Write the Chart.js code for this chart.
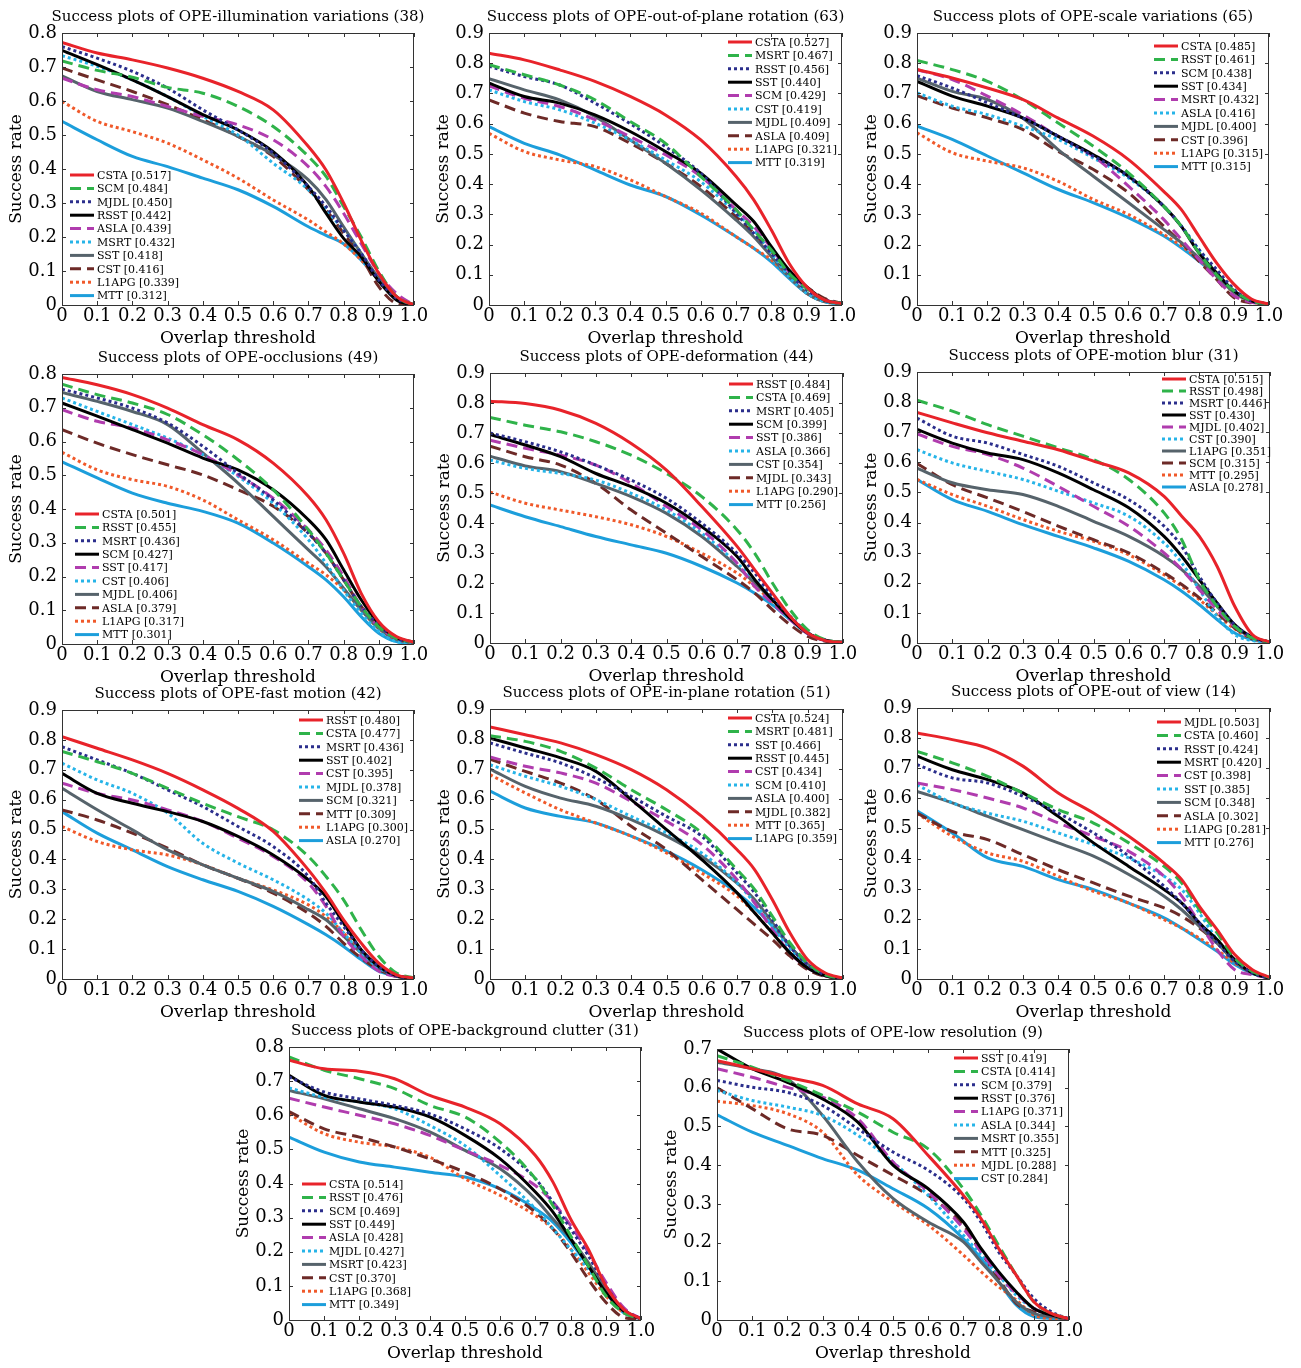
<!DOCTYPE html>
<html>
<head>
<meta charset="utf-8">
<title>Success plots of OPE</title>
<script src="https://cdn.jsdelivr.net/npm/chart.js@4.4.0/dist/chart.umd.min.js"></script>
<style>
  html, body { margin: 0; padding: 0; background: #fff; }
  #page { position: relative; width: 1301px; height: 1368px; overflow: hidden; background: #fff; }
  .cell { position: absolute; }
</style>
</head>
<body>
<div id="page"></div>
<script>
const thresholds = [0, 0.1, 0.2, 0.3, 0.4, 0.5, 0.6, 0.7, 0.75, 0.8, 0.85, 0.9, 0.95, 1.0];
const xTickLabels = ['0', '0.1', '0.2', '0.3', '0.4', '0.5', '0.6', '0.7', '0.8', '0.9', '1.0'];
const yTickLabels = ['0', '0.1', '0.2', '0.3', '0.4', '0.5', '0.6', '0.7', '0.8', '0.9'];

// OPE-illumination variations (38)
const illumNames = ['CSTA', 'SCM', 'MJDL', 'RSST', 'ASLA', 'MSRT', 'SST', 'CST', 'L1APG', 'MTT'];
const illumScores = [0.517, 0.484, 0.450, 0.442, 0.439, 0.432, 0.418, 0.416, 0.339, 0.312];
const illumRates = [
  [0.772, 0.741, 0.721, 0.697, 0.667, 0.628, 0.574, 0.466, 0.397, 0.300, 0.190, 0.093, 0.025, 0],
  [0.718, 0.690, 0.670, 0.640, 0.623, 0.584, 0.525, 0.437, 0.378, 0.290, 0.200, 0.100, 0.025, 0],
  [0.760, 0.726, 0.687, 0.638, 0.574, 0.515, 0.447, 0.348, 0.290, 0.220, 0.152, 0.074, 0.020, 0],
  [0.749, 0.707, 0.662, 0.613, 0.560, 0.515, 0.451, 0.348, 0.270, 0.196, 0.142, 0.070, 0.015, 0],
  [0.667, 0.633, 0.613, 0.584, 0.555, 0.530, 0.486, 0.407, 0.348, 0.270, 0.180, 0.093, 0.034, 0],
  [0.733, 0.702, 0.662, 0.613, 0.555, 0.500, 0.417, 0.339, 0.280, 0.220, 0.152, 0.070, 0.020, 0],
  [0.674, 0.628, 0.604, 0.579, 0.540, 0.496, 0.442, 0.368, 0.310, 0.230, 0.152, 0.079, 0.025, 0],
  [0.697, 0.662, 0.628, 0.589, 0.545, 0.496, 0.437, 0.339, 0.280, 0.211, 0.142, 0.054, 0.005, 0],
  [0.599, 0.540, 0.510, 0.476, 0.427, 0.373, 0.309, 0.250, 0.215, 0.180, 0.132, 0.074, 0.025, 0],
  [0.540, 0.486, 0.437, 0.407, 0.373, 0.339, 0.290, 0.230, 0.205, 0.180, 0.132, 0.074, 0.020, 0]
];

// OPE-out-of-plane rotation (63)
const oprNames = ['CSTA', 'MSRT', 'RSST', 'SST', 'SCM', 'CST', 'MJDL', 'ASLA', 'L1APG', 'MTT'];
const oprScores = [0.527, 0.467, 0.456, 0.440, 0.429, 0.419, 0.409, 0.409, 0.321, 0.319];
const oprRates = [
  [0.833, 0.811, 0.778, 0.740, 0.690, 0.629, 0.546, 0.425, 0.348, 0.248, 0.138, 0.060, 0.017, 0.005],
  [0.795, 0.762, 0.728, 0.679, 0.607, 0.535, 0.425, 0.315, 0.248, 0.182, 0.105, 0.055, 0.017, 0.005],
  [0.790, 0.756, 0.728, 0.668, 0.600, 0.524, 0.436, 0.304, 0.237, 0.171, 0.105, 0.050, 0.017, 0.005],
  [0.734, 0.690, 0.668, 0.629, 0.574, 0.508, 0.436, 0.331, 0.276, 0.193, 0.116, 0.060, 0.017, 0.005],
  [0.725, 0.684, 0.657, 0.613, 0.557, 0.497, 0.425, 0.315, 0.260, 0.188, 0.110, 0.055, 0.017, 0.005],
  [0.712, 0.673, 0.646, 0.602, 0.546, 0.480, 0.408, 0.304, 0.248, 0.171, 0.094, 0.039, 0.011, 0.003],
  [0.749, 0.712, 0.679, 0.624, 0.546, 0.469, 0.381, 0.281, 0.226, 0.160, 0.094, 0.039, 0.011, 0.003],
  [0.679, 0.635, 0.607, 0.590, 0.535, 0.469, 0.392, 0.292, 0.237, 0.177, 0.110, 0.060, 0.022, 0.005],
  [0.568, 0.508, 0.480, 0.458, 0.414, 0.359, 0.304, 0.226, 0.188, 0.149, 0.094, 0.039, 0.011, 0.003],
  [0.590, 0.535, 0.497, 0.447, 0.397, 0.359, 0.298, 0.226, 0.188, 0.143, 0.088, 0.039, 0.011, 0.003]
];

// OPE-scale variations (65)
const scaleNames = ['CSTA', 'RSST', 'SCM', 'SST', 'MSRT', 'ASLA', 'MJDL', 'CST', 'L1APG', 'MTT'];
const scaleScores = [0.485, 0.461, 0.438, 0.434, 0.432, 0.416, 0.400, 0.396, 0.315, 0.315];
const scaleRates = [
  [0.779, 0.751, 0.718, 0.680, 0.619, 0.559, 0.482, 0.377, 0.317, 0.229, 0.141, 0.069, 0.020, 0.003],
  [0.809, 0.779, 0.740, 0.680, 0.603, 0.526, 0.438, 0.328, 0.262, 0.174, 0.102, 0.047, 0.014, 0.003],
  [0.759, 0.718, 0.669, 0.619, 0.559, 0.493, 0.427, 0.328, 0.262, 0.185, 0.119, 0.053, 0.014, 0.003],
  [0.740, 0.691, 0.658, 0.619, 0.559, 0.498, 0.427, 0.328, 0.262, 0.174, 0.108, 0.047, 0.014, 0.003],
  [0.779, 0.746, 0.691, 0.630, 0.559, 0.493, 0.394, 0.284, 0.218, 0.152, 0.086, 0.031, 0.009, 0.003],
  [0.702, 0.658, 0.630, 0.592, 0.548, 0.487, 0.421, 0.328, 0.262, 0.185, 0.108, 0.047, 0.014, 0.003],
  [0.751, 0.707, 0.680, 0.619, 0.515, 0.427, 0.339, 0.251, 0.207, 0.157, 0.097, 0.042, 0.011, 0.003],
  [0.693, 0.652, 0.619, 0.581, 0.509, 0.449, 0.372, 0.262, 0.207, 0.146, 0.086, 0.025, 0.007, 0],
  [0.570, 0.504, 0.476, 0.454, 0.410, 0.350, 0.300, 0.234, 0.196, 0.152, 0.097, 0.042, 0.011, 0.003],
  [0.592, 0.548, 0.493, 0.438, 0.383, 0.339, 0.289, 0.229, 0.190, 0.146, 0.097, 0.047, 0.014, 0.003]
];

// OPE-occlusions (49)
const occNames = ['CSTA', 'RSST', 'MSRT', 'SCM', 'SST', 'CST', 'MJDL', 'ASLA', 'L1APG', 'MTT'];
const occScores = [0.501, 0.455, 0.436, 0.427, 0.417, 0.406, 0.406, 0.379, 0.317, 0.301];
const occRates = [
  [0.790, 0.768, 0.739, 0.699, 0.650, 0.605, 0.536, 0.437, 0.368, 0.269, 0.150, 0.066, 0.022, 0.005],
  [0.770, 0.739, 0.714, 0.680, 0.620, 0.546, 0.457, 0.338, 0.269, 0.190, 0.111, 0.051, 0.017, 0.005],
  [0.755, 0.729, 0.699, 0.655, 0.586, 0.506, 0.427, 0.328, 0.269, 0.190, 0.111, 0.056, 0.017, 0.005],
  [0.714, 0.675, 0.635, 0.595, 0.551, 0.516, 0.457, 0.368, 0.309, 0.220, 0.131, 0.061, 0.019, 0.005],
  [0.694, 0.660, 0.640, 0.605, 0.561, 0.501, 0.432, 0.338, 0.279, 0.200, 0.111, 0.051, 0.017, 0.005],
  [0.729, 0.689, 0.650, 0.610, 0.561, 0.497, 0.417, 0.309, 0.239, 0.160, 0.091, 0.037, 0.007, 0.002],
  [0.745, 0.719, 0.689, 0.650, 0.566, 0.477, 0.378, 0.279, 0.229, 0.165, 0.101, 0.046, 0.014, 0.003],
  [0.635, 0.595, 0.561, 0.531, 0.501, 0.457, 0.408, 0.328, 0.269, 0.190, 0.111, 0.056, 0.019, 0.005],
  [0.568, 0.516, 0.487, 0.467, 0.427, 0.368, 0.309, 0.239, 0.205, 0.160, 0.101, 0.046, 0.014, 0.003],
  [0.540, 0.492, 0.447, 0.417, 0.393, 0.358, 0.299, 0.229, 0.190, 0.140, 0.081, 0.032, 0.007, 0.002]
];

// OPE-deformation (44)
const defNames = ['RSST', 'CSTA', 'MSRT', 'SCM', 'SST', 'ASLA', 'CST', 'MJDL', 'L1APG', 'MTT'];
const defScores = [0.484, 0.469, 0.405, 0.399, 0.386, 0.366, 0.354, 0.343, 0.290, 0.256];
const defRates = [
  [0.806, 0.798, 0.776, 0.732, 0.665, 0.576, 0.455, 0.322, 0.244, 0.166, 0.089, 0.033, 0.008, 0.002],
  [0.752, 0.726, 0.704, 0.671, 0.626, 0.565, 0.488, 0.377, 0.299, 0.200, 0.111, 0.044, 0.011, 0.002],
  [0.700, 0.671, 0.637, 0.593, 0.543, 0.482, 0.399, 0.299, 0.233, 0.155, 0.089, 0.035, 0.009, 0.002],
  [0.695, 0.660, 0.621, 0.565, 0.521, 0.466, 0.388, 0.288, 0.211, 0.144, 0.083, 0.033, 0.009, 0.002],
  [0.676, 0.649, 0.626, 0.593, 0.532, 0.455, 0.377, 0.266, 0.188, 0.133, 0.078, 0.031, 0.008, 0.002],
  [0.610, 0.582, 0.565, 0.543, 0.499, 0.443, 0.366, 0.266, 0.211, 0.150, 0.089, 0.035, 0.009, 0.002],
  [0.623, 0.590, 0.571, 0.532, 0.488, 0.432, 0.355, 0.255, 0.200, 0.144, 0.083, 0.033, 0.009, 0.002],
  [0.656, 0.621, 0.593, 0.532, 0.443, 0.366, 0.288, 0.211, 0.166, 0.111, 0.061, 0.022, 0.006, 0.002],
  [0.503, 0.466, 0.443, 0.421, 0.394, 0.355, 0.299, 0.233, 0.188, 0.139, 0.083, 0.033, 0.009, 0.002],
  [0.460, 0.421, 0.388, 0.355, 0.327, 0.299, 0.255, 0.200, 0.166, 0.127, 0.078, 0.031, 0.008, 0.002]
];

// OPE-motion blur (31)
const blurNames = ['CSTA', 'RSST', 'MSRT', 'SST', 'MJDL', 'CST', 'L1APG', 'SCM', 'MTT', 'ASLA'];
const blurScores = [0.515, 0.498, 0.446, 0.430, 0.402, 0.390, 0.351, 0.315, 0.295, 0.278];
const blurRates = [
  [0.766, 0.731, 0.698, 0.670, 0.642, 0.604, 0.565, 0.487, 0.421, 0.354, 0.255, 0.122, 0.028, 0.003],
  [0.806, 0.770, 0.725, 0.687, 0.648, 0.609, 0.543, 0.432, 0.343, 0.210, 0.122, 0.055, 0.017, 0.003],
  [0.747, 0.687, 0.664, 0.626, 0.587, 0.532, 0.476, 0.388, 0.321, 0.221, 0.133, 0.061, 0.019, 0.003],
  [0.709, 0.664, 0.631, 0.609, 0.565, 0.509, 0.449, 0.354, 0.288, 0.210, 0.133, 0.061, 0.019, 0.003],
  [0.694, 0.653, 0.626, 0.581, 0.520, 0.454, 0.388, 0.299, 0.244, 0.177, 0.111, 0.055, 0.017, 0.003],
  [0.642, 0.598, 0.570, 0.543, 0.504, 0.465, 0.421, 0.332, 0.266, 0.177, 0.089, 0.028, 0.008, 0.002],
  [0.581, 0.532, 0.509, 0.493, 0.454, 0.404, 0.354, 0.288, 0.244, 0.188, 0.122, 0.055, 0.017, 0.003],
  [0.596, 0.526, 0.482, 0.437, 0.388, 0.343, 0.299, 0.233, 0.194, 0.150, 0.100, 0.050, 0.014, 0.003],
  [0.543, 0.493, 0.454, 0.410, 0.371, 0.338, 0.293, 0.227, 0.188, 0.144, 0.094, 0.047, 0.014, 0.003],
  [0.543, 0.476, 0.437, 0.393, 0.354, 0.316, 0.271, 0.210, 0.172, 0.127, 0.078, 0.033, 0.011, 0.002]
];

// OPE-fast motion (42)
const fastNames = ['RSST', 'CSTA', 'MSRT', 'SST', 'CST', 'MJDL', 'SCM', 'MTT', 'L1APG', 'ASLA'];
const fastScores = [0.480, 0.477, 0.436, 0.402, 0.395, 0.378, 0.321, 0.309, 0.300, 0.270];
const fastRates = [
  [0.811, 0.772, 0.733, 0.688, 0.633, 0.571, 0.494, 0.365, 0.287, 0.198, 0.120, 0.053, 0.014, 0.003],
  [0.761, 0.727, 0.688, 0.638, 0.588, 0.543, 0.499, 0.410, 0.343, 0.265, 0.165, 0.076, 0.020, 0.003],
  [0.777, 0.733, 0.688, 0.633, 0.577, 0.510, 0.443, 0.343, 0.254, 0.176, 0.098, 0.042, 0.011, 0.002],
  [0.688, 0.621, 0.588, 0.560, 0.527, 0.477, 0.415, 0.332, 0.276, 0.187, 0.098, 0.042, 0.011, 0.002],
  [0.655, 0.621, 0.599, 0.566, 0.527, 0.471, 0.410, 0.321, 0.243, 0.143, 0.076, 0.026, 0.009, 0.002],
  [0.722, 0.666, 0.621, 0.555, 0.454, 0.388, 0.332, 0.265, 0.220, 0.154, 0.087, 0.037, 0.011, 0.002],
  [0.638, 0.566, 0.499, 0.432, 0.382, 0.337, 0.293, 0.232, 0.198, 0.143, 0.087, 0.037, 0.011, 0.002],
  [0.566, 0.532, 0.488, 0.438, 0.382, 0.337, 0.287, 0.220, 0.176, 0.120, 0.070, 0.031, 0.009, 0.002],
  [0.510, 0.460, 0.432, 0.415, 0.382, 0.337, 0.298, 0.248, 0.209, 0.154, 0.092, 0.042, 0.011, 0.002],
  [0.560, 0.488, 0.432, 0.376, 0.332, 0.293, 0.243, 0.182, 0.148, 0.109, 0.065, 0.026, 0.009, 0.002]
];

// OPE-in-plane rotation (51)
const iprNames = ['CSTA', 'MSRT', 'SST', 'RSST', 'CST', 'SCM', 'ASLA', 'MJDL', 'MTT', 'L1APG'];
const iprScores = [0.524, 0.481, 0.466, 0.445, 0.434, 0.410, 0.400, 0.382, 0.365, 0.359];
const iprRates = [
  [0.840, 0.814, 0.787, 0.748, 0.698, 0.631, 0.542, 0.431, 0.364, 0.264, 0.153, 0.064, 0.020, 0.003],
  [0.811, 0.792, 0.759, 0.703, 0.631, 0.564, 0.487, 0.364, 0.298, 0.209, 0.120, 0.053, 0.014, 0.002],
  [0.787, 0.753, 0.720, 0.670, 0.609, 0.542, 0.476, 0.353, 0.287, 0.198, 0.109, 0.048, 0.014, 0.002],
  [0.803, 0.770, 0.737, 0.692, 0.598, 0.498, 0.398, 0.287, 0.220, 0.153, 0.087, 0.037, 0.011, 0.002],
  [0.740, 0.709, 0.687, 0.653, 0.592, 0.526, 0.448, 0.331, 0.253, 0.164, 0.087, 0.037, 0.011, 0.002],
  [0.714, 0.676, 0.642, 0.598, 0.542, 0.487, 0.420, 0.320, 0.253, 0.176, 0.098, 0.040, 0.011, 0.002],
  [0.700, 0.642, 0.603, 0.576, 0.531, 0.476, 0.409, 0.320, 0.264, 0.187, 0.109, 0.048, 0.014, 0.002],
  [0.733, 0.692, 0.653, 0.598, 0.509, 0.431, 0.331, 0.231, 0.181, 0.131, 0.076, 0.031, 0.009, 0.002],
  [0.681, 0.620, 0.564, 0.520, 0.476, 0.420, 0.353, 0.276, 0.220, 0.153, 0.087, 0.037, 0.011, 0.002],
  [0.626, 0.570, 0.542, 0.520, 0.476, 0.426, 0.364, 0.287, 0.237, 0.176, 0.109, 0.048, 0.014, 0.002]
];

// OPE-out of view (14)
const oovNames = ['MJDL', 'CSTA', 'RSST', 'MSRT', 'CST', 'SST', 'SCM', 'ASLA', 'L1APG', 'MTT'];
const oovScores = [0.503, 0.460, 0.424, 0.420, 0.398, 0.385, 0.348, 0.302, 0.281, 0.276];
const oovRates = [
  [0.817, 0.795, 0.767, 0.707, 0.618, 0.551, 0.474, 0.385, 0.330, 0.241, 0.164, 0.081, 0.031, 0.005],
  [0.756, 0.718, 0.673, 0.618, 0.563, 0.518, 0.452, 0.374, 0.319, 0.230, 0.153, 0.070, 0.025, 0.005],
  [0.712, 0.668, 0.651, 0.607, 0.551, 0.485, 0.408, 0.308, 0.252, 0.186, 0.120, 0.059, 0.020, 0.003],
  [0.740, 0.695, 0.662, 0.618, 0.540, 0.452, 0.374, 0.297, 0.252, 0.186, 0.131, 0.064, 0.020, 0.003],
  [0.651, 0.629, 0.601, 0.568, 0.518, 0.474, 0.424, 0.341, 0.275, 0.186, 0.097, 0.031, 0.014, 0.003],
  [0.645, 0.585, 0.551, 0.524, 0.485, 0.446, 0.402, 0.341, 0.297, 0.219, 0.131, 0.064, 0.020, 0.003],
  [0.623, 0.585, 0.540, 0.496, 0.452, 0.408, 0.347, 0.275, 0.230, 0.175, 0.120, 0.059, 0.020, 0.003],
  [0.551, 0.490, 0.463, 0.413, 0.363, 0.319, 0.275, 0.236, 0.208, 0.169, 0.120, 0.059, 0.020, 0.003],
  [0.550, 0.474, 0.419, 0.391, 0.341, 0.291, 0.252, 0.197, 0.169, 0.136, 0.097, 0.053, 0.020, 0.003],
  [0.559, 0.485, 0.402, 0.374, 0.330, 0.297, 0.252, 0.203, 0.169, 0.131, 0.092, 0.048, 0.018, 0.003]
];

// OPE-background clutter (31)
const bgcNames = ['CSTA', 'RSST', 'SCM', 'SST', 'ASLA', 'MJDL', 'MSRT', 'CST', 'L1APG', 'MTT'];
const bgcScores = [0.514, 0.476, 0.469, 0.449, 0.428, 0.427, 0.423, 0.370, 0.368, 0.349];
const bgcRates = [
  [0.761, 0.736, 0.729, 0.707, 0.658, 0.624, 0.575, 0.482, 0.404, 0.296, 0.208, 0.100, 0.032, 0.003],
  [0.771, 0.732, 0.707, 0.678, 0.629, 0.595, 0.521, 0.414, 0.335, 0.247, 0.159, 0.071, 0.022, 0.003],
  [0.712, 0.668, 0.648, 0.629, 0.604, 0.560, 0.502, 0.414, 0.345, 0.267, 0.189, 0.100, 0.032, 0.003],
  [0.717, 0.658, 0.639, 0.624, 0.595, 0.541, 0.472, 0.375, 0.316, 0.238, 0.159, 0.081, 0.027, 0.003],
  [0.650, 0.624, 0.600, 0.575, 0.541, 0.497, 0.453, 0.394, 0.345, 0.277, 0.199, 0.111, 0.037, 0.003],
  [0.680, 0.653, 0.639, 0.619, 0.570, 0.511, 0.423, 0.326, 0.267, 0.208, 0.150, 0.081, 0.027, 0.003],
  [0.673, 0.648, 0.619, 0.590, 0.551, 0.497, 0.443, 0.355, 0.296, 0.238, 0.169, 0.091, 0.030, 0.003],
  [0.611, 0.560, 0.536, 0.507, 0.472, 0.433, 0.384, 0.316, 0.267, 0.199, 0.120, 0.052, 0.008, 0.002],
  [0.604, 0.546, 0.521, 0.507, 0.477, 0.414, 0.365, 0.306, 0.267, 0.208, 0.140, 0.071, 0.022, 0.003],
  [0.536, 0.492, 0.463, 0.448, 0.433, 0.419, 0.384, 0.326, 0.287, 0.228, 0.159, 0.081, 0.022, 0.003]
];

// OPE-low resolution (9)
const lowresNames = ['SST', 'CSTA', 'SCM', 'RSST', 'L1APG', 'ASLA', 'MSRT', 'MTT', 'MJDL', 'CST'];
const lowresScores = [0.419, 0.414, 0.379, 0.376, 0.371, 0.344, 0.355, 0.325, 0.288, 0.284];
const lowresRates = [
  [0.670, 0.649, 0.627, 0.606, 0.558, 0.520, 0.425, 0.322, 0.262, 0.185, 0.116, 0.047, 0.017, 0.003],
  [0.683, 0.653, 0.619, 0.580, 0.537, 0.485, 0.442, 0.339, 0.271, 0.193, 0.116, 0.047, 0.017, 0.003],
  [0.619, 0.601, 0.588, 0.554, 0.494, 0.434, 0.387, 0.314, 0.253, 0.176, 0.116, 0.056, 0.021, 0.003],
  [0.700, 0.649, 0.614, 0.571, 0.511, 0.400, 0.339, 0.253, 0.185, 0.125, 0.073, 0.030, 0.013, 0.003],
  [0.649, 0.627, 0.601, 0.576, 0.520, 0.408, 0.331, 0.236, 0.176, 0.116, 0.069, 0.030, 0.013, 0.003],
  [0.593, 0.567, 0.550, 0.528, 0.477, 0.408, 0.322, 0.219, 0.168, 0.116, 0.064, 0.030, 0.013, 0.003],
  [0.666, 0.649, 0.623, 0.528, 0.408, 0.314, 0.253, 0.202, 0.150, 0.099, 0.047, 0.017, 0.009, 0.003],
  [0.600, 0.546, 0.494, 0.477, 0.425, 0.374, 0.322, 0.245, 0.176, 0.107, 0.043, 0.021, 0.009, 0.003],
  [0.565, 0.554, 0.533, 0.485, 0.374, 0.305, 0.245, 0.168, 0.125, 0.086, 0.052, 0.013, 0.004, 0.002],
  [0.530, 0.485, 0.451, 0.417, 0.387, 0.339, 0.288, 0.210, 0.159, 0.099, 0.039, 0.009, 0.004, 0.002]
];

// Line style by rank in the legend (same order in every panel)
const rankStyles = [
  { color: '#e8232a', dash: [] },
  { color: '#2fb34a', dash: [11, 6] },
  { color: '#2b2e8c', dash: [3, 3] },
  { color: '#000000', dash: [] },
  { color: '#b03cae', dash: [11, 6] },
  { color: '#26b4e8', dash: [3, 3] },
  { color: '#56636b', dash: [] },
  { color: '#6d2a27', dash: [11, 6] },
  { color: '#f0592a', dash: [3, 3] },
  { color: '#1c9edb', dash: [] }
];

const FONT = '"DejaVu Serif", serif';
const AXIS_W = 62, AXIS_H = 44, PAD_T = 33, PAD_R = 22;

// area = plot box on the page [left, top, right, bottom]; legend = offset of first entry inside the box
const panels = [
  { title: 'Success plots of OPE-illumination variations (38)', yMax: 0.8, names: illumNames, scores: illumScores, rates: illumRates, area: [62, 33, 414, 305], legend: [8, 142, 13.4] },
  { title: 'Success plots of OPE-out-of-plane rotation (63)', yMax: 0.9, names: oprNames, scores: oprScores, rates: oprRates, area: [489, 33, 842, 305], legend: [239, 9, 13.4] },
  { title: 'Success plots of OPE-scale variations (65)', yMax: 0.9, names: scaleNames, scores: scaleScores, rates: scaleRates, area: [917, 33, 1269, 305], legend: [237, 13, 13.4] },
  { title: 'Success plots of OPE-occlusions (49)', yMax: 0.8, names: occNames, scores: occScores, rates: occRates, area: [62, 374, 414, 644], legend: [13, 140, 13.4] },
  { title: 'Success plots of OPE-deformation (44)', yMax: 0.9, names: defNames, scores: defScores, rates: defRates, area: [490, 373, 843, 643], legend: [239, 11, 13.4] },
  { title: 'Success plots of OPE-motion blur (31)', yMax: 0.9, names: blurNames, scores: blurScores, rates: blurRates, area: [917, 372, 1270, 643], legend: [245, 7, 12] },
  { title: 'Success plots of OPE-fast motion (42)', yMax: 0.9, names: fastNames, scores: fastScores, rates: fastRates, area: [62, 710, 414, 979], legend: [237, 10, 13.4] },
  { title: 'Success plots of OPE-in-plane rotation (51)', yMax: 0.9, names: iprNames, scores: iprScores, rates: iprRates, area: [490, 709, 843, 979], legend: [238, 9, 13.4] },
  { title: 'Success plots of OPE-out of view (14)', yMax: 0.9, names: oovNames, scores: oovScores, rates: oovRates, area: [917, 708, 1270, 979], legend: [240, 14, 13.4] },
  { title: 'Success plots of OPE-background clutter (31)', yMax: 0.8, names: bgcNames, scores: bgcScores, rates: bgcRates, area: [289, 1047, 641, 1320], legend: [13, 137, 13.4] },
  { title: 'Success plots of OPE-low resolution (9)', yMax: 0.7, names: lowresNames, scores: lowresScores, rates: lowresRates, area: [717, 1049, 1069, 1320], legend: [237, 9, 13.4] }
];

// Box, inward ticks, title and legend, MATLAB style
function panelDecor(panel) {
  return {
    id: 'panelDecor',
    afterDatasetsDraw(chart) {
      const { ctx, chartArea: a, scales } = chart;
      ctx.save();
      ctx.strokeStyle = '#333';
      ctx.lineWidth = 1;
      ctx.strokeRect(a.left + 0.5, a.top + 0.5, a.right - a.left - 1, a.bottom - a.top);
      ctx.beginPath();
      for (let i = 0; i <= 10; i++) {
        const x = Math.round(scales.x.getPixelForValue(i / 10)) + 0.5;
        ctx.moveTo(x, a.bottom); ctx.lineTo(x, a.bottom - 4);
        ctx.moveTo(x, a.top); ctx.lineTo(x, a.top + 4);
      }
      for (let v = 0; v <= panel.yMax + 1e-9; v += 0.1) {
        const y = Math.round(scales.y.getPixelForValue(v)) + 0.5;
        ctx.moveTo(a.left, y); ctx.lineTo(a.left + 4, y);
        ctx.moveTo(a.right, y); ctx.lineTo(a.right - 4, y);
      }
      ctx.stroke();
      ctx.restore();
    },
    afterDraw(chart) {
      const { ctx, chartArea: a } = chart;
      ctx.save();
      ctx.fillStyle = '#000';
      ctx.font = '15px ' + FONT;
      ctx.textAlign = 'center';
      ctx.textBaseline = 'middle';
      ctx.fillText(panel.title, (a.left + a.right) / 2, a.top - 16);

      const [dx, dy, step] = panel.legend;
      ctx.font = '11px ' + FONT;
      ctx.textAlign = 'left';
      panel.names.forEach((name, i) => {
        const st = rankStyles[i];
        const x = a.left + dx, y = a.top + dy + i * step;
        ctx.strokeStyle = st.color;
        ctx.lineWidth = 3;
        ctx.setLineDash(st.dash);
        ctx.beginPath();
        ctx.moveTo(x, y); ctx.lineTo(x + 24, y);
        ctx.stroke();
        ctx.setLineDash([]);
        ctx.fillStyle = '#000';
        ctx.fillText(name + ' [' + panel.scores[i].toFixed(3) + ']', x + 27, y + 1);
      });
      ctx.restore();
    }
  };
}

const page = document.getElementById('page');

panels.forEach(panel => {
  const [l, t, r, b] = panel.area;
  const w = (r - l) + AXIS_W + PAD_R;
  const h = (b - t) + PAD_T + AXIS_H;
  const cell = document.createElement('div');
  cell.className = 'cell';
  cell.style.left = (l - AXIS_W) + 'px';
  cell.style.top = (t - PAD_T) + 'px';
  cell.style.width = w + 'px';
  cell.style.height = h + 'px';
  const canvas = document.createElement('canvas');
  canvas.width = w;
  canvas.height = h;
  canvas.style.width = w + 'px';
  canvas.style.height = h + 'px';
  cell.appendChild(canvas);
  page.appendChild(cell);

  const datasets = panel.rates.map((rates, i) => ({
    label: panel.names[i],
    data: rates.map((v, k) => ({ x: thresholds[k], y: v })),
    borderColor: rankStyles[i].color,
    borderDash: rankStyles[i].dash,
    borderWidth: 3,
    pointRadius: 0,
    fill: false,
    cubicInterpolationMode: 'monotone'
  }));

  new Chart(canvas, {
    type: 'line',
    data: { datasets },
    options: {
      responsive: false,
      animation: false,
      events: [],
      layout: { padding: { top: PAD_T, right: PAD_R, left: 0, bottom: 0 } },
      plugins: {
        legend: { display: false },
        tooltip: { enabled: false },
        title: { display: false }
      },
      scales: {
        x: {
          type: 'linear',
          min: 0,
          max: 1,
          grid: { display: false, drawTicks: false },
          border: { display: false },
          ticks: {
            stepSize: 0.1,
            autoSkip: false,
            maxRotation: 0,
            padding: 1,
            color: '#000',
            font: { family: FONT, size: 18 },
            callback: (value, index) => xTickLabels[index]
          },
          title: {
            display: true,
            text: 'Overlap threshold',
            color: '#000',
            font: { family: FONT, size: 17 },
            padding: { top: 0, bottom: 0 }
          },
          afterFit: s => { s.height = AXIS_H; }
        },
        y: {
          type: 'linear',
          min: 0,
          max: panel.yMax,
          grid: { display: false, drawTicks: false },
          border: { display: false },
          ticks: {
            stepSize: 0.1,
            autoSkip: false,
            padding: 5,
            color: '#000',
            font: { family: FONT, size: 18 },
            callback: (value, index) => yTickLabels[index]
          },
          title: {
            display: true,
            text: 'Success rate',
            color: '#000',
            font: { family: FONT, size: 17 },
            padding: { top: 6, bottom: 0 }
          },
          afterFit: s => { s.width = AXIS_W; }
        }
      }
    },
    plugins: [panelDecor(panel)]
  });
});
</script>
</body>
</html>
